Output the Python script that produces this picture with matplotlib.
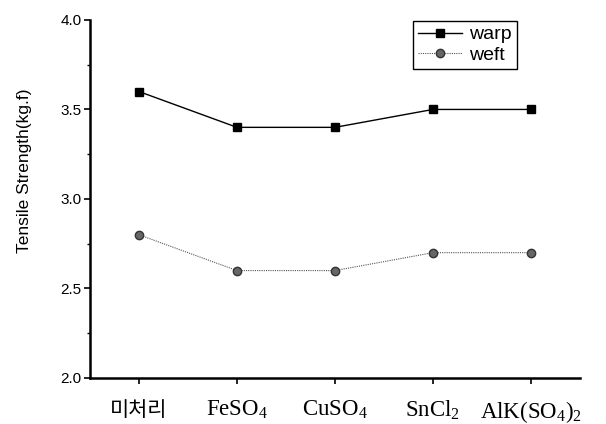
import numpy as np
import matplotlib.pyplot as plt
from matplotlib.ticker import MultipleLocator

# data
categories = ['미처리', r'FeSO$_4$', r'CuSO$_4$', r'SnCl$_2$', r'AlK(SO$_4$)$_2$']
warp = [3.6, 3.4, 3.4, 3.5, 3.5]
weft = [2.8, 2.6, 2.6, 2.7, 2.7]

plt.rcParams['mathtext.fontset'] = 'custom'
plt.rcParams['mathtext.rm'] = 'Liberation Serif'
plt.rcParams['mathtext.it'] = 'Liberation Serif'

fig = plt.figure(figsize=(6.06, 4.24), dpi=100)
ax = fig.add_axes([0.1485, 0.1085, 0.8085, 0.8445])

x = np.arange(len(categories))
ax.plot(x, warp, color='black', lw=1.0, marker='s', ms=6, label='warp')
ax.plot(x, weft, color='#555555', lw=0.8, ls=(0, (1, 1)), marker='o', ms=6,
        mfc='#666666', mec='#333333', label='weft')

ax.set_xlim(-0.5, 4.5)
ax.set_ylim(2.0, 4.0)
ax.yaxis.set_major_locator(MultipleLocator(0.5))
ax.yaxis.set_minor_locator(MultipleLocator(0.25))
ax.set_yticklabels([f'{v:.1f}' for v in ax.get_yticks()], family='Liberation Sans', fontsize=11)
ax.set_xticks(x)
ax.set_xticklabels(categories, fontsize=16.5, family=['Liberation Serif', 'Noto Sans CJK KR'])
ax.get_xticklabels()[0].set_family('Noto Sans CJK KR')
ax.get_xticklabels()[0].set_fontsize(15)
ax.tick_params(axis='x', length=4, width=1.2, pad=11)
ax.tick_params(axis='y', which='major', length=4, width=1.2, pad=2)
ax.tick_params(axis='y', which='minor', length=2, width=1)

for s in ['top', 'right']:
    ax.spines[s].set_visible(False)
for s in ['left', 'bottom']:
    ax.spines[s].set_linewidth(1.8)

ax.set_ylabel('Tensile Strength(kg.f)', family='Liberation Sans', fontsize=12.5)
ax.yaxis.set_label_coords(-0.118, 0.58)

leg = ax.legend(loc='upper left', bbox_to_anchor=(0.659, 0.997),
                prop={'family': 'Liberation Sans', 'size': 14},
                fancybox=False, edgecolor='black', framealpha=1,
                handlelength=2.3, borderpad=0.25, labelspacing=0.15,
                handletextpad=0.35, borderaxespad=0)
leg.get_frame().set_linewidth(1.0)

fig.savefig('out.png', dpi=100)
